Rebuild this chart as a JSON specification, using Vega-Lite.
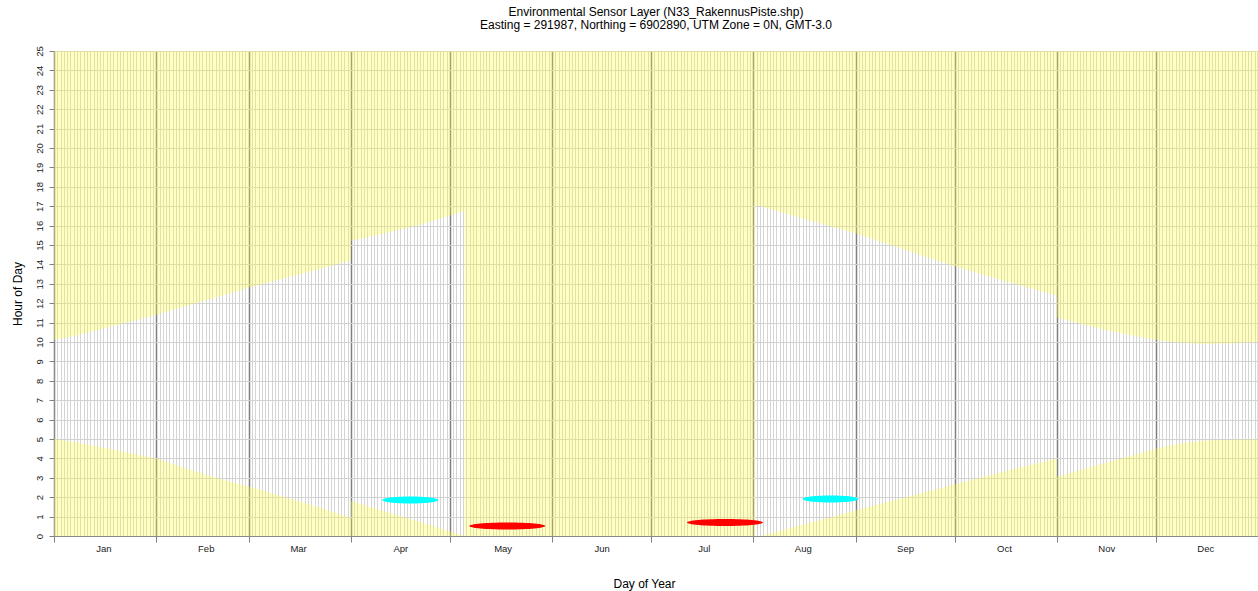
{
  "$schema": "https://vega.github.io/schema/vega-lite/v6.json",
  "width": 1204,
  "height": 485,
  "autosize": {"type": "none"},
  "padding": {"left": 54, "top": 51, "right": 0, "bottom": 55},
  "background": "#ffffff",
  "config": {
    "font": "Liberation Sans",
    "view": {"stroke": null, "fill": "#ffffff"},
    "axisY": {
      "tickCount": 25,
      "grid": true,
      "gridColor": "#d2d2d2",
      "gridWidth": 1,
      "tickSize": 5,
      "tickColor": "#808080",
      "domainColor": "#8a8a8a",
      "labelAngle": -90,
      "labelAlign": "center",
      "labelBaseline": "bottom",
      "labelPadding": 5,
      "labelFontSize": 9.5,
      "labelColor": "#222222",
      "labelOverlap": false,
      "labelFlush": false,
      "titleFontSize": 12,
      "titleFontWeight": "normal",
      "titleColor": "#000000",
      "titleX": -37,
      "titleY": 242.5,
      "titleAngle": -90,
      "titleAlign": "center",
      "titleBaseline": "middle"
    }
  },
  "title": {
    "text": ["Environmental Sensor Layer (N33_RakennusPiste.shp)", "Easting = 291987, Northing = 6902890, UTM Zone = 0N, GMT-3.0"],
    "fontSize": 12,
    "fontWeight": "normal",
    "color": "#000000",
    "anchor": "middle",
    "frame": "group",
    "offset": 14,
    "lineHeight": 13
  },
  "datasets": {
    "bands": [
      {"day": 1, "lo": 5.0, "hi": 10.1},
      {"day": 8, "lo": 4.82, "hi": 10.35},
      {"day": 16, "lo": 4.55, "hi": 10.7},
      {"day": 24, "lo": 4.28, "hi": 11.05},
      {"day": 32, "lo": 4.0, "hi": 11.4},
      {"day": 40, "lo": 3.55, "hi": 11.8},
      {"day": 50, "lo": 3.0, "hi": 12.3},
      {"day": 60, "lo": 2.55, "hi": 12.8},
      {"day": 70, "lo": 2.05, "hi": 13.25},
      {"day": 80, "lo": 1.55, "hi": 13.7},
      {"day": 91, "lo": 0.93, "hi": 14.2},
      {"day": 91, "lo": 1.8, "hi": 15.2},
      {"day": 100, "lo": 1.33, "hi": 15.55},
      {"day": 112, "lo": 0.72, "hi": 16.05},
      {"day": 125.5, "lo": 0.0, "hi": 16.75},
      {"day": 125.5, "lo": 25, "hi": 25},
      {"day": 213.5, "lo": 25, "hi": 25},
      {"day": 213.5, "lo": 0.0, "hi": 17.06},
      {"day": 215, "lo": 0.0, "hi": 17.0},
      {"day": 230, "lo": 0.67, "hi": 16.27},
      {"day": 244, "lo": 1.32, "hi": 15.6},
      {"day": 259, "lo": 1.98, "hi": 14.75},
      {"day": 274, "lo": 2.66, "hi": 13.9},
      {"day": 289, "lo": 3.32, "hi": 13.15},
      {"day": 305, "lo": 4.0, "hi": 12.4},
      {"day": 305, "lo": 3.05, "hi": 11.25},
      {"day": 320, "lo": 3.78, "hi": 10.6},
      {"day": 335, "lo": 4.5, "hi": 10.1},
      {"day": 342, "lo": 4.75, "hi": 9.97},
      {"day": 350, "lo": 4.92, "hi": 9.9},
      {"day": 358, "lo": 4.96, "hi": 9.93},
      {"day": 366, "lo": 4.97, "hi": 10.0}
    ],
    "spots": [
      {"day": 109, "hour": 1.86, "series": "cyan"},
      {"day": 236.4, "hour": 1.91, "series": "cyan"},
      {"day": 138.4, "hour": 0.52, "series": "red"},
      {"day": 204.4, "hour": 0.69, "series": "red"}
    ]
  },
  "encoding": {
    "x": {
      "field": "day",
      "type": "quantitative",
      "title": "Day of Year",
      "scale": {"domain": [1, 366], "nice": false, "zero": false},
      "axis": {
        "tickCount": 365,
        "grid": true,
        "gridColor": {"condition": {"test": "indexof([1,32,60,91,121,152,182,213,244,274,305,335,366], datum.value) >= 0", "value": "#7f7f7f"}, "value": "#d4d4d4"},
        "gridWidth": {"condition": {"test": "indexof([1,32,60,91,121,152,182,213,244,274,305,335,366], datum.value) >= 0", "value": 1.5}, "value": 1},
        "ticks": true,
        "tickSize": 6,
        "tickColor": {"condition": {"test": "indexof([1,32,60,91,121,152,182,213,244,274,305,335,366], datum.value) >= 0", "value": "#808080"}, "value": "transparent"},
        "domain": true,
        "domainColor": "#8a8a8a",
        "labelExpr": "indexof([16,47,75,106,137,167,198,228,259,289,320,350], datum.value) >= 0 ? ['Jan','Feb','Mar','Apr','May','Jun','Jul','Aug','Sep','Oct','Nov','Dec'][indexof([16,47,75,106,137,167,198,228,259,289,320,350], datum.value)] : ''",
        "labelOverlap": false,
        "labelFlush": false,
        "labelFontSize": 9.5,
        "labelColor": "#222222",
        "labelPadding": 1,
        "titleFontSize": 12,
        "titleFontWeight": "normal",
        "titleColor": "#000000",
        "titleX": 590,
        "titleY": 47,
        "titleBaseline": "middle",
        "titleAlign": "center"
      }
    }
  },
  "layer": [
    {
      "data": {"name": "bands"},
      "mark": {"type": "area", "color": "#FFFF37", "opacity": 0.3, "interpolate": "linear"},
      "encoding": {
        "y": {"field": "lo", "type": "quantitative", "title": "Hour of Day", "scale": {"domain": [0, 25], "nice": false, "zero": false}},
        "y2": {"datum": 0}
      }
    },
    {
      "data": {"name": "bands"},
      "mark": {"type": "area", "color": "#FFFF37", "opacity": 0.3, "interpolate": "linear"},
      "encoding": {
        "y": {"field": "hi", "type": "quantitative", "title": "Hour of Day", "scale": {"domain": [0, 25], "nice": false, "zero": false}},
        "y2": {"datum": 25}
      }
    },
    {
      "data": {"name": "spots"},
      "transform": [{"filter": "datum.series == 'cyan'"}],
      "mark": {"type": "point", "shape": "M -1 0 C -1 -0.069 -0.5523 -0.125 0 -0.125 C 0.5523 -0.125 1 -0.069 1 0 C 1 0.069 0.5523 0.125 0 0.125 C -0.5523 0.125 -1 0.069 -1 0 Z", "size": 3136, "filled": true, "color": "#00FFFF", "opacity": 1, "strokeWidth": 0},
      "encoding": {
        "y": {"field": "hour", "type": "quantitative", "title": "Hour of Day", "scale": {"domain": [0, 25], "nice": false, "zero": false}}
      }
    },
    {
      "data": {"name": "spots"},
      "transform": [{"filter": "datum.series == 'red'"}],
      "mark": {"type": "point", "shape": "M -1 0 C -1 -0.0508 -0.5523 -0.092 0 -0.092 C 0.5523 -0.092 1 -0.0508 1 0 C 1 0.0508 0.5523 0.092 0 0.092 C -0.5523 0.092 -1 0.0508 -1 0 Z", "size": 5776, "filled": true, "color": "#FF0000", "opacity": 1, "strokeWidth": 0},
      "encoding": {
        "y": {"field": "hour", "type": "quantitative", "title": "Hour of Day", "scale": {"domain": [0, 25], "nice": false, "zero": false}}
      }
    }
  ]
}
